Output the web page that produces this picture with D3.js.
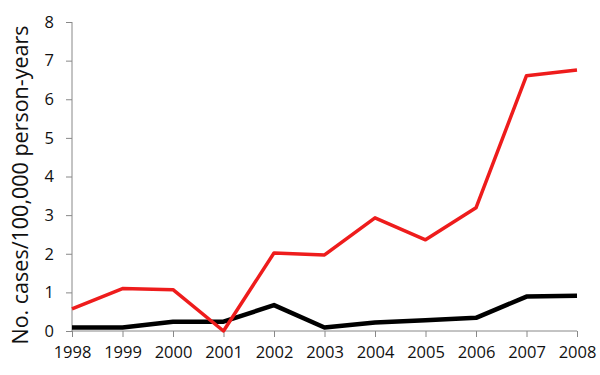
<!DOCTYPE html>
<html><head><meta charset="utf-8">
<script src="https://cdn.jsdelivr.net/npm/d3@7"></script>
<style>body{margin:0;background:#fff}svg text{font-family:"Open Sans",sans-serif}</style>
</head><body><svg id="c" width="600" height="375"></svg>
<script>
const years = [1998,1999,2000,2001,2002,2003,2004,2005,2006,2007,2008];
const redSeries = [0.57,1.10,1.07,0.0,2.02,1.97,2.93,2.36,3.19,6.61,6.76];
const blackSeries = [0.09,0.09,0.24,0.24,0.67,0.09,0.22,0.28,0.34,0.89,0.91];
const yTicks = [0,1,2,3,4,5,6,7,8];
const yLabel = "No. cases/100,000 person-years";

const svg = d3.select("#c");
const x = d3.scaleLinear().domain([1998,2008]).range([72,577]);
const y = d3.scaleLinear().domain([0,8]).range([331,22]);

const gx = svg.append("g").attr("transform","translate(0,331)")
  .call(d3.axisBottom(x).tickValues(years).tickFormat(d3.format("d")).tickSize(6).tickPadding(9));
const gy = svg.append("g").attr("transform","translate(72,0)")
  .call(d3.axisLeft(y).tickValues(yTicks).tickSize(6).tickPadding(12));
[gx,gy].forEach(g=>{
  g.attr("font-family","'Open Sans',sans-serif");
  g.selectAll("path,line").attr("stroke","#888");
  g.selectAll("text").style("font-size","16.5px").attr("fill","#111");
});
gx.select(".domain").attr("d","M72,0H577");
gy.select(".domain").attr("d","M0,331V22");

svg.append("text").attr("transform","translate(22,185) rotate(-90)")
  .attr("text-anchor","middle").attr("dominant-baseline","middle")
  .style("font-size","21.5px").attr("fill","#111").text(yLabel);

const line = d3.line().x((d,i)=>x(years[i])).y(d=>y(d));
svg.append("path").datum(blackSeries).attr("d",line).attr("fill","none")
  .attr("stroke","#000").attr("stroke-width",4.5).attr("stroke-linejoin","round");
svg.append("path").datum(redSeries).attr("d",line).attr("fill","none")
  .attr("stroke","#ee1c1c").attr("stroke-width",3.5).attr("stroke-linejoin","round");
</script></body></html>
